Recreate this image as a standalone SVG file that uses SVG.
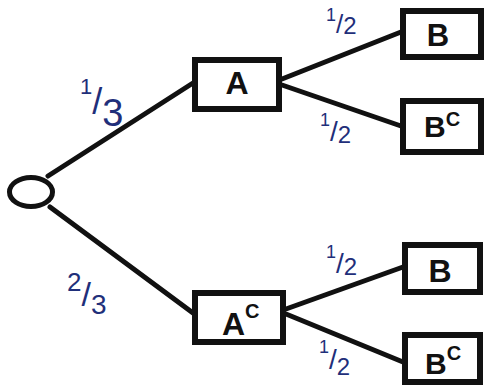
<svg xmlns="http://www.w3.org/2000/svg" width="486" height="387" viewBox="0 0 486 387">
<style>
.box{fill:#fff;stroke:#111;stroke-width:6}
.lbl{font-family:"Liberation Sans",Arial,sans-serif;font-weight:bold;fill:#111}
.p{font-family:"Liberation Sans",Arial,sans-serif;fill:#1f2f7a}
.edge{stroke:#111;stroke-width:5;stroke-linecap:round;fill:none}
</style>
<rect width="486" height="387" fill="#fff"/>
<g id="connectors">
<line class="edge" x1="48" y1="176" x2="193" y2="83"/>
<line class="edge" x1="50" y1="207" x2="193" y2="313"/>
<line class="edge" x1="282" y1="79" x2="401" y2="32"/>
<line class="edge" x1="282" y1="85" x2="401" y2="126"/>
<line class="edge" x1="286" y1="309" x2="403" y2="267"/>
<line class="edge" x1="286" y1="314" x2="403" y2="362"/>
</g>
<g id="labels">
<text class="p" x="80" y="94"><tspan font-size="22">1</tspan><tspan font-size="36" dy="20">/</tspan><tspan font-size="38" dy="12">3</tspan></text>
<text class="p" x="67" y="291"><tspan font-size="26">2</tspan><tspan font-size="34" dy="15">/</tspan><tspan font-size="28" dy="8">3</tspan></text>
<text class="p" x="326" y="21"><tspan font-size="18">1</tspan><tspan font-size="26" dy="12">/</tspan><tspan font-size="24" dy="1">2</tspan></text>
<text class="p" x="320" y="126"><tspan font-size="18">1</tspan><tspan font-size="28" dy="15">/</tspan><tspan font-size="24" dy="2">2</tspan></text>
<text class="p" x="326" y="258"><tspan font-size="18">1</tspan><tspan font-size="28" dy="15">/</tspan><tspan font-size="24" dy="2">2</tspan></text>
<text class="p" x="319" y="353"><tspan font-size="18">1</tspan><tspan font-size="28" dy="16">/</tspan><tspan font-size="24" dy="6">2</tspan></text>
</g>
<g id="root"><ellipse cx="31" cy="192" rx="21.5" ry="14.5" fill="#fff" stroke="#111" stroke-width="5"/></g>
<g id="A"><rect class="box" x="195" y="60" width="84" height="49"/><text class="lbl" x="237" y="94" font-size="32" text-anchor="middle">A</text></g>
<g id="Ac"><rect class="box" x="195" y="293" width="88" height="49"/><text class="lbl" x="222" y="335" font-size="32">A<tspan font-size="20" dy="-17">C</tspan></text></g>
<g id="B1"><rect class="box" x="403" y="11" width="78" height="46"/><text class="lbl" x="438" y="46" font-size="31" text-anchor="middle">B</text></g>
<g id="Bc1"><rect class="box" x="403" y="101" width="78" height="51"/><text class="lbl" x="424" y="137" font-size="30">B<tspan font-size="20" dy="-11">C</tspan></text></g>
<g id="B2"><rect class="box" x="405" y="245" width="75" height="47"/><text class="lbl" x="440" y="282" font-size="32" text-anchor="middle">B</text></g>
<g id="Bc2"><rect class="box" x="405" y="335" width="75" height="47"/><text class="lbl" x="425" y="374" font-size="30">B<tspan font-size="20" dy="-14">C</tspan></text></g>
</svg>
